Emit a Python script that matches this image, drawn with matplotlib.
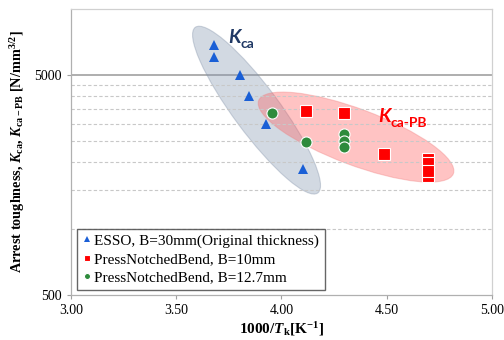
import matplotlib
matplotlib.use("Agg")
import matplotlib.pyplot as plt
from matplotlib.patches import Ellipse
from matplotlib.ticker import FixedLocator, NullFormatter
from matplotlib.transforms import ScaledTranslation

plt.rcParams['font.family'] = ['Liberation Serif', 'DejaVu Serif']
plt.rcParams['mathtext.fontset'] = 'custom'
plt.rcParams['mathtext.rm'] = 'Liberation Serif:bold'
plt.rcParams['mathtext.it'] = 'Liberation Serif:italic:bold'
plt.rcParams['mathtext.bf'] = 'Liberation Serif:bold'

# data
esso_x = [3.678, 3.678, 3.802, 3.845, 3.929, 4.103]
esso_y = [6830, 6000, 4970, 4000, 2985, 1860]
pnb10_x = [4.119, 4.297, 4.487, 4.698, 4.698, 4.698, 4.698]
pnb10_y = [3430, 3360, 2180, 2070, 1985, 1735, 1825]
pnb127_x = [3.955, 4.119, 4.297, 4.297, 4.297]
pnb127_y = [3360, 2465, 2692, 2497, 2354]

xticks = [3.0, 3.5, 4.0, 4.5, 5.0]
yticks = [500, 5000]
ygrid_minor = [1000, 1500, 2000, 2500, 3000, 3500, 4000, 4500]

# ellipses: centre (data), semi axes (px), angle (deg)
gray_ell = (3.882, 3456, 103, 23, -53.5)
red_ell = (4.355, 2606, 104, 28, -20.6)

fig = plt.figure(figsize=(5.04, 3.40), dpi=100)
ax = fig.add_axes([0.1409, 0.1332, 0.8347, 0.8412])
ax.set_yscale('log')
ax.set_xlim(3.0, 5.0)
ax.set_ylim(500, 10000)

ax.set_xticks(xticks)
ax.set_xticklabels([f'{v:.2f}' for v in xticks])
ax.set_yticks(yticks)
ax.set_yticklabels([str(v) for v in yticks])
ax.yaxis.set_minor_locator(FixedLocator(ygrid_minor))
ax.yaxis.set_minor_formatter(NullFormatter())
ax.tick_params(axis='both', which='major', labelsize=10, length=3,
               color='#A0A0A0', direction='out', pad=4)
ax.tick_params(axis='y', which='minor', length=0)
ax.grid(True, which='minor', axis='y', ls=(0, (3, 2)), color='#C8C8C8', lw=0.8)
ax.axhline(5000, color='#A8A8A8', lw=1.3, zorder=0.5)
for s in ax.spines.values():
    s.set_color('#D0D0D0')
    s.set_linewidth(0.9)
ax.spines['left'].set_color('#B0B0B0')
ax.spines['bottom'].set_color('#B0B0B0')

for (cx, cy, a, b, ang), fc, ec in [(gray_ell, '#8496B0', '#7F8FA6'),
                                     (red_ell, '#FF5A5A', '#F08080')]:
    tr = fig.dpi_scale_trans + ScaledTranslation(cx, cy, ax.transData)
    e = Ellipse((0, 0), 2 * a / 100, 2 * b / 100, angle=ang, transform=tr,
                facecolor=fc, edgecolor=ec, alpha=0.36, lw=0.8, zorder=1)
    ax.add_patch(e)

ax.plot(esso_x, esso_y, ls='none', marker='^', ms=7.5, color='#1A5FD6',
        mew=0, zorder=3, label='ESSO, B=30mm(Original thickness)')
ax.plot(pnb10_x, pnb10_y, ls='none', marker='s', ms=8, color='#FF0000',
        mec='white', mew=0.8, zorder=3, label='PressNotchedBend, B=10mm')
ax.plot(pnb127_x, pnb127_y, ls='none', marker='o', ms=8, color='#2E8B3C',
        mec='white', mew=0.8, zorder=4, label='PressNotchedBend, B=12.7mm')

ax.text(3.746, 6968, 'K', fontsize=14, fontweight='bold', style='italic',
        family=['Lato', 'DejaVu Sans'], color='#1F3864', va='baseline')
ax.text(3.807, 6646, 'ca', fontsize=10, fontweight='bold',
        family=['Lato', 'DejaVu Sans'], color='#1F3864', va='baseline')
ax.text(4.459, 3048, 'K', fontsize=14, fontweight='bold', style='italic',
        family=['Lato', 'DejaVu Sans'], color='#FF0000', va='baseline')
ax.text(4.521, 2908, 'ca-PB', fontsize=10, fontweight='bold',
        family=['Lato', 'DejaVu Sans'], color='#FF0000', va='baseline')

leg = ax.legend(loc='lower left', bbox_to_anchor=(0.014, 0.017), fontsize=11,
                frameon=True, fancybox=False, edgecolor='#404040',
                handlelength=0.6, handletextpad=0.2, markerscale=0.55,
                labelspacing=0.3, borderpad=0.35, borderaxespad=0)
leg.get_frame().set_linewidth(1.0)

ax.set_xlabel(r'1000/$T_{\rm k}$[K$^{-1}$]', fontsize=11, fontweight='bold', labelpad=2)
ax.set_ylabel(r'Arrest toughness, $K_{\rm ca}$, $K_{\rm ca-PB}$ [N/mm$^{3/2}$]',
              fontsize=10.3, fontweight='bold', labelpad=5)

fig.savefig('out.png', dpi=100)
